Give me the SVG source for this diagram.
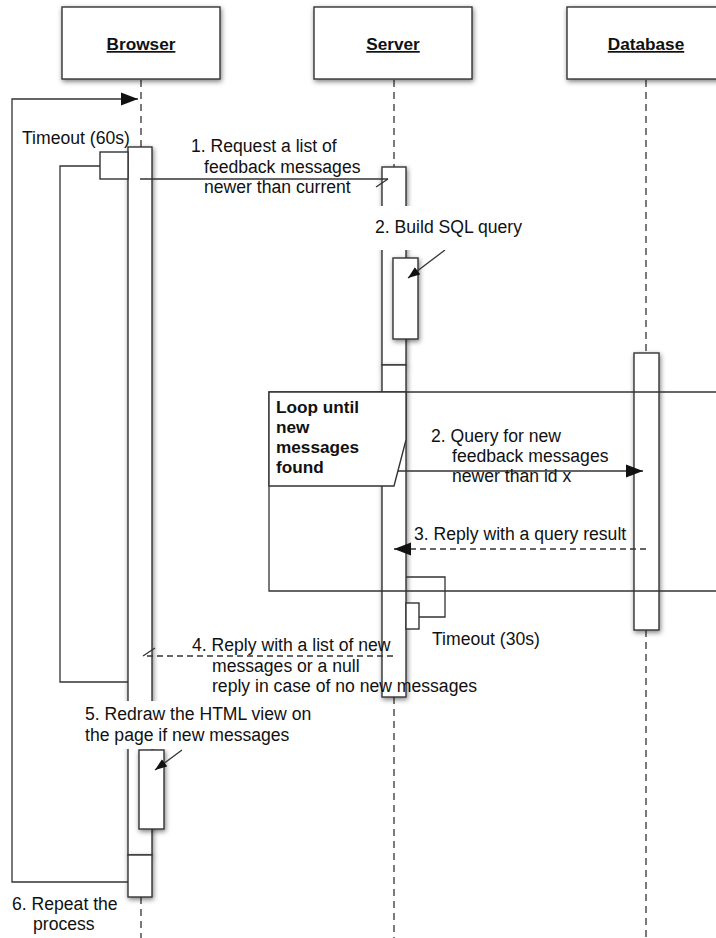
<svg xmlns="http://www.w3.org/2000/svg" width="716" height="938" viewBox="0 0 716 938">
<defs>
<style>
text{font-family:"Liberation Sans",Arial,sans-serif;font-size:17.6px;fill:#111}
.hdr{font-weight:bold;text-decoration:underline;text-anchor:middle;font-size:17.2px}
.bold{font-weight:bold;font-size:17.2px}
.box{fill:#fff;stroke:#333;stroke-width:1.4}
.bar{fill:#fff;stroke:#333;stroke-width:1.4}
.life{fill:none;stroke:#333;stroke-width:1.3;stroke-dasharray:7 5}
.ln{fill:none;stroke:#333;stroke-width:1.3}
.dash{fill:none;stroke:#333;stroke-width:1.3;stroke-dasharray:6 4}
.bg{fill:#fff}
</style>
<filter id="sh" x="-60%" y="-10%" width="220%" height="130%">
<feDropShadow dx="1" dy="2" stdDeviation="2.5" flood-color="#000" flood-opacity="0.5"/>
</filter>
<marker id="fill" markerUnits="userSpaceOnUse" markerWidth="18" markerHeight="14" refX="17" refY="7" orient="auto">
<path d="M0,0.5 L17,7 L0,13.5 z" fill="#111"/>
</marker>
<marker id="small" markerUnits="userSpaceOnUse" markerWidth="13" markerHeight="10" refX="12" refY="5" orient="auto">
<path d="M0,0.5 L12,5 L0,9.5 z" fill="#111"/>
</marker>
<marker id="half" markerUnits="userSpaceOnUse" markerWidth="16" markerHeight="16" refX="14" refY="3" orient="auto">
<path d="M14,3 L2,11" fill="none" stroke="#333" stroke-width="1.3"/>
</marker>
</defs>

<g id="lifelines">
<line class="life" x1="141" y1="80" x2="141" y2="147"/>
<line class="life" x1="141" y1="897" x2="141" y2="938"/>
<line class="life" x1="394" y1="80" x2="394" y2="167"/>
<line class="life" x1="394" y1="697" x2="394" y2="938"/>
<line class="life" x1="646" y1="80" x2="646" y2="353"/>
<line class="life" x1="646" y1="630" x2="646" y2="938"/>
</g>

<g id="browser">
<rect class="box" x="62" y="7" width="158" height="72" filter="url(#sh)"/>
<text class="hdr" x="141" y="50">Browser</text>
</g>
<g id="server">
<rect class="box" x="314" y="7" width="158" height="72" filter="url(#sh)"/>
<text class="hdr" x="393" y="50">Server</text>
</g>
<g id="database">
<rect class="box" x="567" y="7" width="158" height="72" filter="url(#sh)"/>
<text class="hdr" x="646" y="50">Database</text>
</g>

<g id="browser-activations">
<rect class="bar" x="128" y="147" width="24" height="708" filter="url(#sh)"/>
<rect class="bar" x="128" y="855" width="24" height="42" filter="url(#sh)"/>
<rect class="bar" x="100" y="152" width="28" height="27"/>
<rect class="bar" x="139" y="750" width="25" height="79" filter="url(#sh)"/>
</g>

<g id="server-activations">
<rect class="bar" x="382" y="167" width="24" height="198" filter="url(#sh)"/>
<rect class="bar" x="382" y="365" width="24" height="332" filter="url(#sh)"/>
<rect class="bar" x="393" y="258" width="25" height="81" filter="url(#sh)"/>
<rect class="bar" x="406" y="603" width="13" height="26"/>
</g>

<g id="database-activation">
<rect class="bar" x="634" y="353" width="25" height="277" filter="url(#sh)"/>
</g>

<g id="loop-frame">
<path class="ln" d="M730,392 H269 V591 H730"/>
</g>

<g id="connectors">
<path class="ln" d="M128,882 H12 V99 H138" marker-end="url(#fill)"/>
<path class="ln" d="M100,166 H60 V682 H128"/>
<line class="ln" x1="140" y1="179" x2="388" y2="179" marker-end="url(#half)"/>
<line class="ln" x1="394" y1="471" x2="643" y2="471" marker-end="url(#fill)"/>
<line class="dash" x1="646" y1="549" x2="394" y2="549" marker-end="url(#fill)"/>
<path class="ln" d="M406,577 H445 V617 H419"/>
<line class="dash" x1="393" y1="656" x2="143" y2="656" marker-end="url(#half)"/>
<line class="ln" x1="445" y1="250" x2="408" y2="278" marker-end="url(#small)"/>
<line class="ln" x1="182" y1="750" x2="155" y2="770" marker-end="url(#small)"/>
</g>

<g id="loop-label">
<path class="box" d="M269,392 H406 V440 L394,486 H269 Z"/>
<text class="bold" x="276" y="413">Loop until</text>
<text class="bold" x="276" y="433">new</text>
<text class="bold" x="276" y="453">messages</text>
<text class="bold" x="276" y="473">found</text>
</g>

<g id="labels">
<text x="22" y="144">Timeout (60s)</text>
<text x="191" y="152">1. Request a list of</text>
<text x="204" y="173">feedback messages</text>
<text x="204" y="193">newer than current</text>
<rect class="bg" x="368" y="206" width="162" height="44"/>
<text x="375" y="233">2. Build SQL query</text>
<text x="431" y="442">2. Query for new</text>
<text x="452" y="462">feedback messages</text>
<text x="452" y="482">newer than id x</text>
<text x="414" y="540">3. Reply with a query result</text>
<text x="432" y="645">Timeout (30s)</text>
<text x="192" y="651">4. Reply with a list of new</text>
<text x="212" y="672">messages or a null</text>
<text x="212" y="692">reply in case of no new messages</text>
<rect class="bg" x="80" y="701" width="256" height="48"/>
<text x="85" y="720">5. Redraw the HTML view on</text>
<text x="85" y="741">the page if new messages</text>
<text x="12" y="910">6. Repeat the</text>
<text x="33" y="930">process</text>
</g>
</svg>
